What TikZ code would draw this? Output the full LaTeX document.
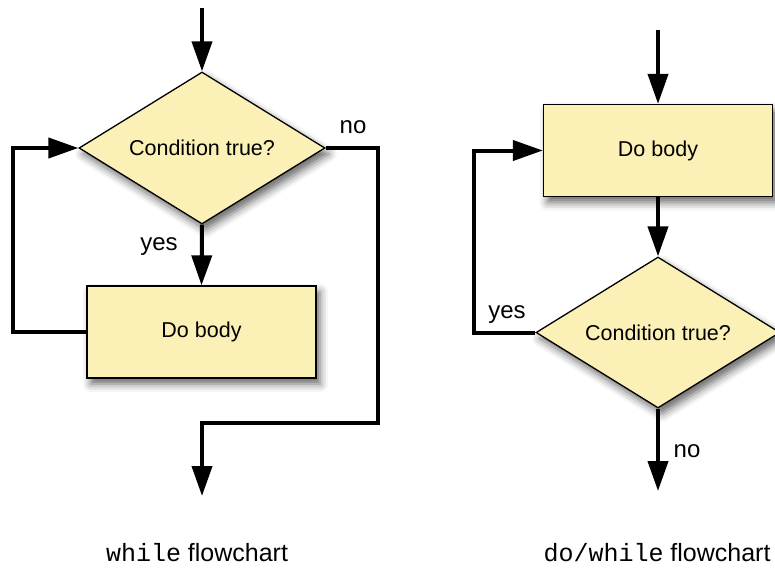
\documentclass[tikz,border=0pt]{standalone}
\usepackage{fontspec}
\setmainfont{Liberation Sans}
\setmonofont{Liberation Mono}
\usetikzlibrary{shapes.geometric, arrows.meta, calc, shadows.blur}
\definecolor{flowfill}{HTML}{FBF0B6}
\tikzset{
	flowshadow/.style={blur shadow={shadow xshift=4pt, shadow yshift=-6pt, shadow blur radius=8pt, shadow opacity=60}},
	flowbox/.style={draw, line width=1.3pt, fill=flowfill, minimum width=229pt, minimum height=92pt, inner sep=0pt, font=\fontsize{21.5}{25}\selectfont, flowshadow},
	decision/.style={diamond, aspect=1.6, draw, line width=1.3pt, fill=flowfill, minimum width=246pt, minimum height=152pt, inner sep=0pt, font=\fontsize{21.5}{25}\selectfont, flowshadow},
	flowline/.style={line width=4pt},
	flowarrow/.style={flowline, -{Triangle[width=20pt,length=30pt]}},
	branch/.style={font=\fontsize{24}{28}\selectfont},
	caption/.style={font=\fontsize{25}{30}\selectfont}
}
\begin{document}
\begin{tikzpicture}[x=1pt,y=-1pt]
			\useasboundingbox (0,0) rectangle (775,567);
			\clip (0,0) rectangle (775,567);
			%while flowchart
			\node[decision](condL) at (202,148){Condition true?};
			\node[flowbox](bodyL) at (201.5,332){Do body};
			\coordinate (startL) at (202,8);
			\coordinate (turnL) at (378,423);
			\coordinate (endL) at (202,496);
			\draw[flowarrow] (startL) -- (condL.north);
			\draw[flowarrow] (condL.south) -- (bodyL.north);
			\draw[flowarrow] (bodyL.west) -- ++(-73,0) |- (condL.west);
			\draw[flowarrow] (condL.east) -| (turnL) -| (endL);
			%do/while flowchart
			\node[flowbox](bodyR) at (658,150.5){Do body};
			\node[decision, minimum width=244pt, minimum height=151pt](condR) at (658,332.5){Condition true?};
			\coordinate (startR) at (658,30);
			\coordinate (endR) at (658,491);
			\draw[flowarrow] (startR) -- (bodyR.north);
			\draw[flowarrow] (bodyR.south) -- (condR.north);
			\draw[flowarrow] (condR.west) -- ++(-61,0) |- (bodyR.west);
			\draw[flowarrow] (condR.south) -- (endR);
			%labels
			\node[branch](yesL) at (159,247){yes};
			\node[branch](noL) at (353,127){no};
			\node[branch](yesR) at (507,315){yes};
			\node[branch](noR) at (687,451){no};
			\node[caption](capL) at (197,553){\texttt{while} flowchart};
			\node[caption](capR) at (657,553){\texttt{do/while} flowchart};
\end{tikzpicture}
\end{document}
